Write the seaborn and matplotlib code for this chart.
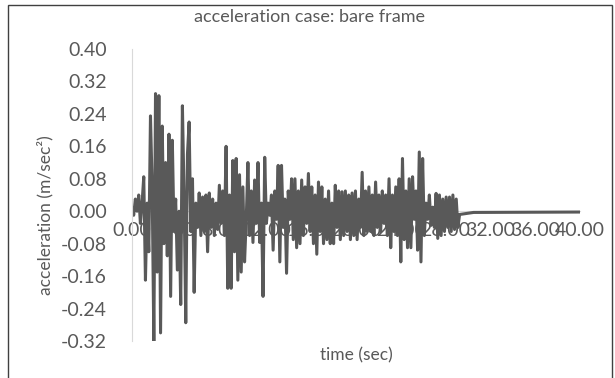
import numpy as np
import pandas as pd
import matplotlib
matplotlib.use("Agg")
import matplotlib.pyplot as plt
import seaborn as sns
from matplotlib.patches import Rectangle

# acceleration record, one value every 0.15 s
dt = 0.15
accel = [
    0.01, -0.01, 0.03, 0.00, 0.04, -0.03, 0.02, 0.085, -0.17, 0.02,
    -0.10, 0.235, 0.06, -0.32, 0.29, -0.15, 0.285, -0.30, 0.21, -0.08,
    0.12, -0.11, 0.19, -0.21, 0.175, -0.05, 0.03, -0.145, 0.00, -0.23,
    0.26, 0.04, -0.275, 0.14, 0.22, -0.05, 0.08, -0.20, 0.02, -0.04,
    0.045, -0.06, 0.035, -0.05, 0.04, -0.10, 0.045, -0.04, 0.03, -0.06,
    0.02, -0.045, 0.064, -0.03, 0.05, -0.06, 0.16, -0.19, 0.04, -0.19,
    0.125, -0.10, 0.13, -0.17, 0.09, -0.15, 0.06, -0.125, -0.02, 0.12,
    -0.06, 0.05, -0.077, 0.077, -0.03, 0.12, -0.077, 0.02, -0.21, 0.133,
    -0.03, 0.02, -0.01, 0.04, -0.096, 0.05, -0.02, 0.113, -0.125, 0.113,
    -0.04, 0.03, -0.153, 0.05, -0.02, 0.08, -0.07, 0.08, -0.09, 0.05,
    -0.08, 0.077, -0.06, 0.06, -0.03, 0.093, -0.05, 0.06, -0.08, 0.04,
    -0.106, 0.072, -0.05, 0.06, -0.08, 0.03, -0.07, 0.05, -0.08, 0.02,
    -0.08, 0.064, -0.04, 0.05, -0.07, 0.048, -0.06, 0.05, -0.05, 0.04,
    -0.07, 0.045, -0.06, 0.05, -0.07, 0.03, -0.04, 0.096, -0.06, 0.05,
    -0.05, 0.06, -0.05, 0.04, -0.06, 0.072, -0.04, 0.04, -0.05, 0.05,
    -0.03, 0.04, -0.06, 0.08, -0.09, 0.04, -0.05, 0.06, -0.06, 0.08,
    -0.125, 0.13, -0.07, 0.05, -0.09, 0.08, -0.09, 0.085, -0.02, 0.05,
    -0.096, 0.146, -0.125, 0.13, -0.06, 0.02, -0.02, 0.04, -0.035, 0.01,
    -0.04, 0.044, -0.067, 0.04, -0.06, 0.03, -0.05, 0.035, -0.04, 0.035,
    -0.05, 0.04, -0.045, 0.03, -0.04,
]
time = [round(i * dt, 2) for i in range(len(accel))]

# free vibration tail after the record ends
tail_time = [29.25, 30.5, 40.0]
tail_accel = [-0.008, -0.003, -0.002]

df = pd.DataFrame({"time": time + tail_time, "accel": accel + tail_accel})

x_ticks = [0, 4, 8, 12, 16, 20, 24, 28, 32, 36, 40]
y_ticks = [0.40, 0.32, 0.24, 0.16, 0.08, 0.00, -0.08, -0.16, -0.24, -0.32]

sns.set_style("white")
plt.rcParams["font.family"] = ["Lato", "DejaVu Sans"]
grey = "#595959"

fig = plt.figure(figsize=(6.15, 3.78), dpi=100)
ax = fig.add_axes([132 / 615, 1 - 341 / 378, 448 / 615, 292 / 378])

sns.lineplot(data=df, x="time", y="accel", ax=ax, color=grey,
             linewidth=2.2, estimator=None)

ax.set_xlim(0, 40)
ax.set_ylim(-0.32, 0.40)
ax.set_xticks(x_ticks)
ax.set_xticklabels([f"{v:.2f}" for v in x_ticks])
ax.set_yticks(y_ticks)
ax.set_yticklabels([f"{v:.2f}" for v in y_ticks])
ax.tick_params(axis="both", length=0, labelsize=14, labelcolor=grey)
ax.tick_params(axis="y", pad=18)
ax.tick_params(axis="x", pad=8)

for s in ["top", "right"]:
    ax.spines[s].set_visible(False)
ax.spines["bottom"].set_position(("data", 0))
ax.spines["bottom"].set_color("#d9d9d9")
ax.spines["left"].set_color("#d9d9d9")
ax.spines["bottom"].set_zorder(0)
ax.set_xlabel("")
ax.set_ylabel("")

fig.text(310 / 615, 1 - 17 / 378, "acceleration case: bare frame",
         ha="center", va="center", fontsize=13, color=grey)
fig.text(356 / 615, 1 - 355 / 378, "time (sec)",
         ha="center", va="center", fontsize=12.5, color=grey)
fig.text(45 / 615, 1 - 215 / 378, "acceleration (m/sec²)", rotation=90,
         ha="center", va="center", fontsize=12.5, color=grey,
         family=["Liberation Sans Narrow", "Lato", "DejaVu Sans"])

fig.patches.append(Rectangle((8 / 615, -0.01), 604 / 615, 1 - 1 / 378,
                             transform=fig.transFigure, fill=False,
                             edgecolor="#404040", linewidth=1.0))

fig.savefig("out.png", dpi=100)
